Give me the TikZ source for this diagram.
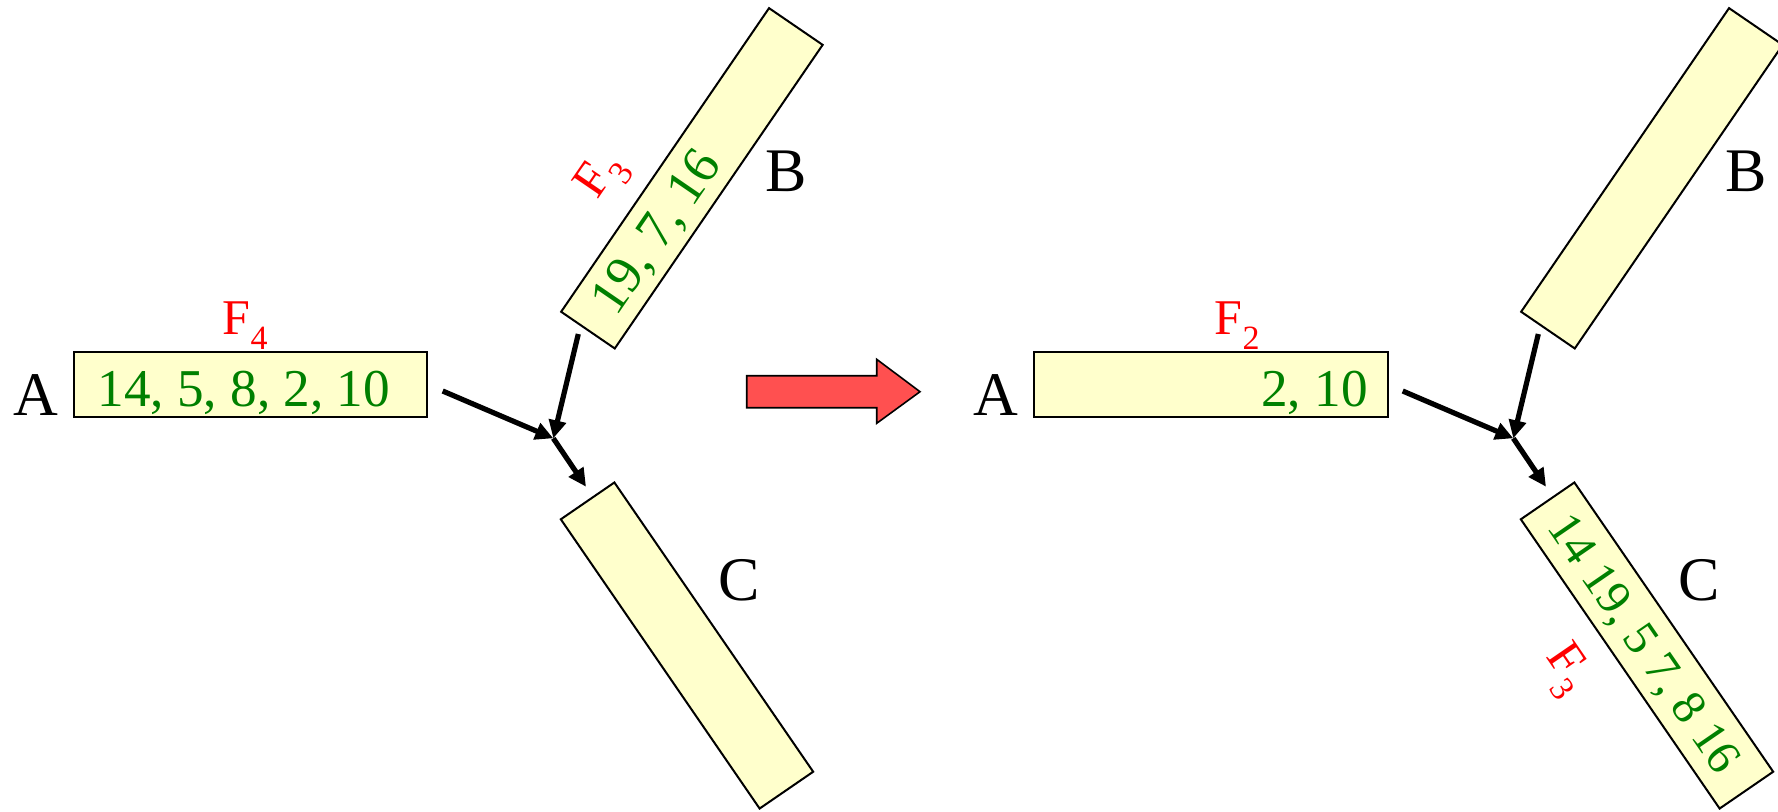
\documentclass[tikz,border=0pt]{standalone}
\usepackage{fontspec}
\setmainfont{Liberation Serif}
\usetikzlibrary{arrows.meta}
\definecolor{boxfill}{RGB}{255,255,204}
\definecolor{numgreen}{RGB}{0,128,0}
\definecolor{flabel}{RGB}{255,0,0}
\definecolor{bigarrow}{RGB}{255,80,80}
\newcommand{\Fsub}[1]{F\raisebox{-7.8pt}{\fontsize{17}{17}\selectfont #1}}
\begin{document}
\begin{tikzpicture}[x=0.5pt,y=-0.5pt,
  bar/.style={draw=black, line width=1pt, fill=boxfill, inner sep=0pt, minimum height=32.5pt},
  nums/.style={text=numgreen, font=\fontsize{26.6}{30}\selectfont, inner sep=0pt},
  lbl/.style={font=\fontsize{31}{34}\selectfont, inner sep=0pt, anchor=base},
  flbl/.style={text=flabel, inner sep=0pt, font=\fontsize{25}{27}\selectfont},
  conn/.style={line width=2.6pt, -{Triangle[length=9pt,width=8.5pt]}},
  redarrow/.style={draw=black, line width=0.8pt, fill=bigarrow, line join=miter},
]
\useasboundingbox (0,0) rectangle (1778,811);
\fill[white] (0,0) rectangle (1778,811);

% ---------- left configuration ----------
\node[bar, minimum width=176.5pt] (boxA1) at (250.5,384.8) {};
\node[bar, minimum width=184pt, rotate=55.6] (boxB1) at (691.9,178.3) {};
\node[bar, minimum width=175.5pt, rotate=-55.5] (boxC1) at (687,645.5) {};

\node[nums, anchor=base west] (numA1) at (97,406) {14, 5, 8, 2, 10};
\node[nums, text depth=0pt, rotate=55.6] (numB1) at (655,231) {19, 7, 16};

\node[flbl, anchor=base west] (F4) at (222.5,334) {\Fsub{4}};
\node[flbl, rotate=55.6] (F3a) at (603,177) {\Fsub{3}};

\node[lbl] (labA1) at (36.2,415) {A};
\node[lbl] (labB1) at (786,191.7) {B};
\node[lbl] (labC1) at (739,600.5) {C};

\coordinate (aS1) at (442.7,391);
\coordinate (bS1) at (578.3,334);
\coordinate (J1) at (553.3,438.3);
\coordinate (cE1) at (586,486.7);
\draw[conn] (aS1) -- (J1);
\draw[conn] (bS1) -- (J1);
\draw[conn] (J1) -- (cE1);

% ---------- big red arrow ----------
\draw[redarrow] (746.7,375.7) -- (876.7,375.7) -- (876.7,359.3) -- (920,391.7)
  -- (876.7,423.3) -- (876.7,407.7) -- (746.7,407.7) -- cycle;

% ---------- right configuration ----------
\node[bar, minimum width=176.8pt] (boxA2) at (1211.2,384.8) {};
\node[bar, minimum width=184pt, rotate=55.6] (boxB2) at (1651.9,178.3) {};
\node[bar, minimum width=175.5pt, rotate=-55.5] (boxC2) at (1647,645.5) {};

\node[nums, anchor=base east] (numA2) at (1368,406) {2, 10};
\node[nums, font=\fontsize{24.2}{27}\selectfont, text depth=0pt, rotate=-55.5] (numC2) at (1645,643)
  {14 19, 5 7, 8 16};

\node[flbl, anchor=base west] (F2) at (1214.5,334) {\Fsub{2}};
\node[flbl, rotate=-55.5] (F3b) at (1565,670) {\Fsub{3}};

\node[lbl] (labA2) at (996.2,415) {A};
\node[lbl] (labB2) at (1746,191.7) {B};
\node[lbl] (labC2) at (1699,600.5) {C};

\coordinate (aS2) at (1402.7,391);
\coordinate (bS2) at (1538.3,334);
\coordinate (J2) at (1513.3,438.3);
\coordinate (cE2) at (1546,486.7);
\draw[conn] (aS2) -- (J2);
\draw[conn] (bS2) -- (J2);
\draw[conn] (J2) -- (cE2);
\end{tikzpicture}
\end{document}
